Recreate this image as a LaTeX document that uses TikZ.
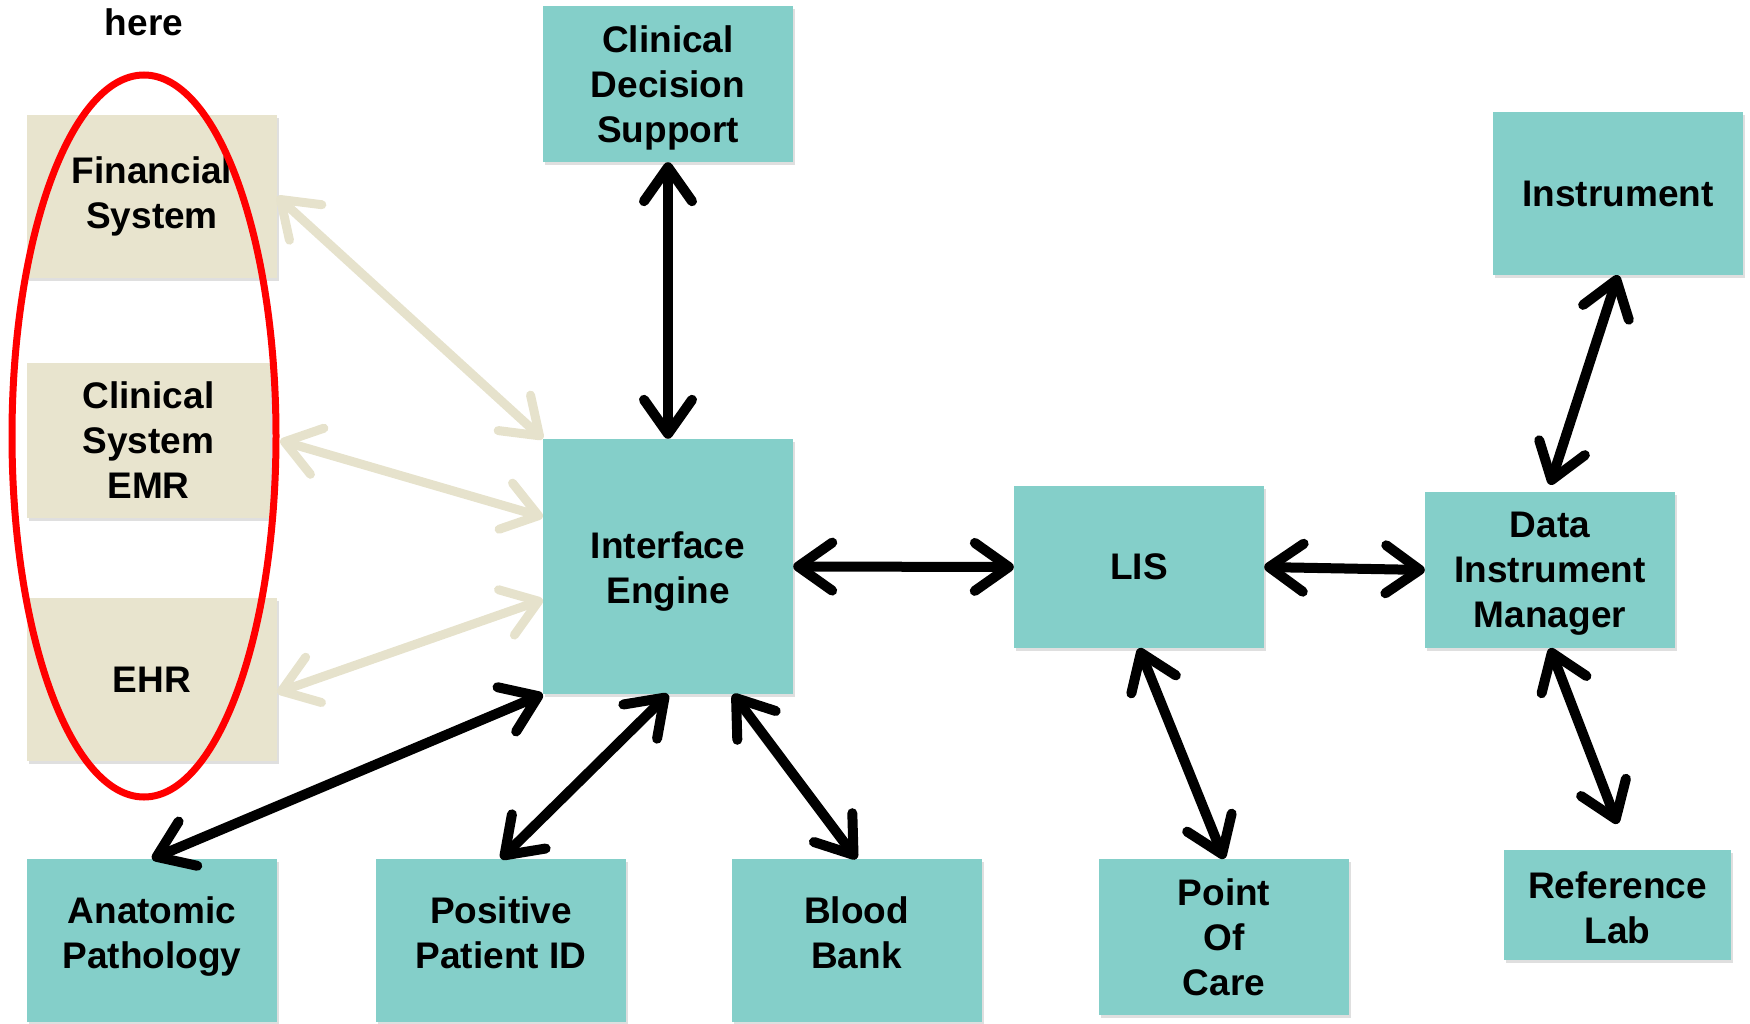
\documentclass[tikz,border=0pt]{standalone}
\usepackage{fontspec}
\setmainfont{Liberation Sans}
\usetikzlibrary{arrows.meta,shapes.geometric,shadows,calc}
\definecolor{tealbox}{HTML}{84CFC9}
\definecolor{beigebox}{HTML}{E8E4CE}
\definecolor{beigearr}{HTML}{E6E2CC}
\begin{document}
\begin{tikzpicture}[x=1pt,y=-1pt,
  txt/.style={inner sep=0pt, align=center, font=\fontsize{37}{45}\selectfont\bfseries},
  box/.style={txt, fill=tealbox, minimum width=250pt,
    drop shadow={shadow xshift=2pt, shadow yshift=-3pt, opacity=0.25}},
  gbox/.style={box, fill=beigebox},
  link/.style={line width=10pt,
    {Straight Barb[length=34pt,width=48pt,round]}-{Straight Barb[length=34pt,width=48pt,round]}},
  blink/.style={link, draw=black},
  glink/.style={link, draw=beigearr, line width=9pt}
]
\useasboundingbox (0,0) rectangle (1750,1024);

% boxes
\node[box, minimum height=156pt] (cds) at (668,84) {};
\node[txt] (cds-t) at (668,88) {Clinical\\Decision\\Support};
\node[box, minimum height=163pt] (ins) at (1618,193.5) {Instrument};
\node[gbox, minimum height=163pt] (fin) at (152,196.5) {Financial\\System};
\node[gbox, minimum width=243pt, minimum height=155pt] (emr) at (148.5,440.5) {Clinical\\System\\EMR};
\node[gbox, minimum height=163pt] (ehr) at (152,679.5) {EHR};
\node[box, minimum height=255pt] (ie) at (668,566.5) {};
\node[txt] (ie-t) at (668,572) {Interface\\Engine};
\node[box, minimum height=162pt] (lis) at (1139,567) {LIS};
\node[box, minimum height=156pt] (dim) at (1550,570) {};
\node[txt] (dim-t) at (1550,574) {Data\\Instrument\\Manager};
\node[box, minimum height=163pt] (ap) at (152,940.5) {};
\node[txt] (ap-t) at (152,937) {Anatomic\\Pathology};
\node[box, minimum height=163pt] (ppid) at (501,940.5) {};
\node[txt] (ppid-t) at (501,933) {Positive\\Patient ID};
\node[box, minimum height=163pt] (bb) at (856.5,940.5) {};
\node[txt] (bb-t) at (856.5,933) {Blood\\Bank};
\node[box, minimum height=156pt] (poc) at (1224,937) {Point\\Of\\Care};
\node[box, minimum width=227pt, minimum height=110pt] (ref) at (1617.5,905) {};
\node[txt] (ref-t) at (1617.5,908) {Reference\\Lab};

% beige connectors
\draw[glink] (fin.east) -- (ie.north west);
\draw[glink] ([xshift=10pt]emr.east) -- ($(ie.north west)!0.306!(ie.south west)$);
\draw[glink] ($(ehr.north east)!0.58!(ehr.south east)$) -- ($(ie.north west)!0.63!(ie.south west)$);

% black connectors
\draw[blink] (cds.south) -- (ie.north);
\draw[blink] (ie.south west) -- (ap.north);
\draw[blink] (ie.south) -- (ppid.north);
\draw[blink] ($(ie.south west)!0.76!(ie.south east)$) -- (bb.north);
\draw[blink] (ie.east) -- (lis.west);
\draw[blink] (lis.east) -- (dim.west);
\draw[blink] ([yshift=7pt]dim.north) -- (ins.south);
\draw[blink] (lis.south) -- (poc.north);
\draw[blink] (dim.south) -- ([yshift=26pt]ref.north);

% highlight
\node[draw=red, line width=7pt, ellipse, minimum width=264pt, minimum height=722pt, inner sep=0pt] (hl) at (144,436) {};
\node[txt] (here) at (144,22) {here};
\end{tikzpicture}
\end{document}
